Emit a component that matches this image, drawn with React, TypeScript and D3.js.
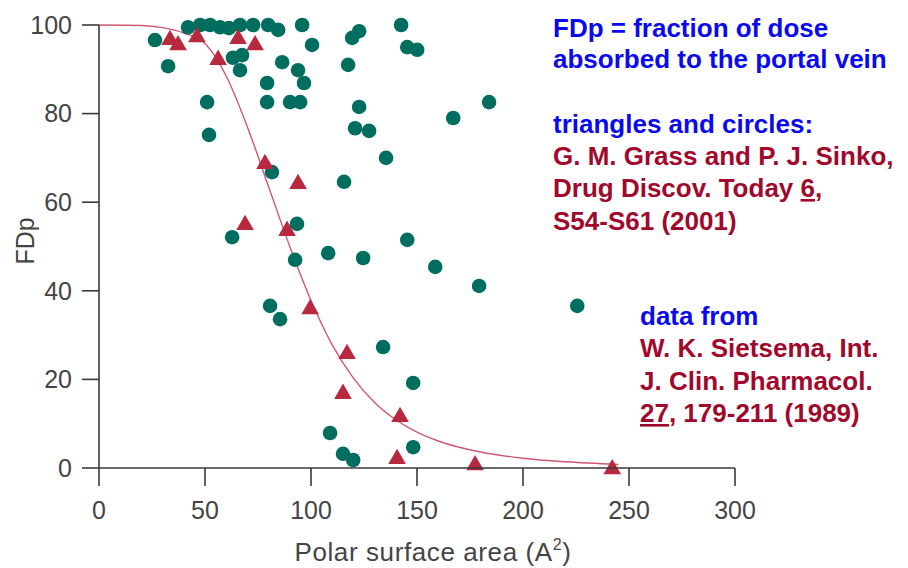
import React from 'react'
import * as d3 from 'd3'

// circles (Sietsema data), polar surface area vs FDp
const circlePsa = [
  26.4, 32.6, 42.0, 47.7, 52.4, 57.1, 61.3, 66.5, 72.7, 79.8, 84.5, 63.2, 67.5,
  66.5, 51.0, 51.9, 79.3, 79.3, 86.4, 90.1, 94.9, 93.9, 96.7, 95.8, 100.5,
  119.4, 122.7, 117.5, 142.5, 145.4, 150.1, 122.7, 120.8, 127.4, 135.4, 167.1,
  184.0, 115.6, 81.6, 93.4, 62.8, 92.5, 108.1, 124.6, 80.7, 85.4, 145.4, 158.6,
  179.3, 225.6, 134.0, 148.2, 109.0, 115.1, 119.9, 148.2
]
const circleFdp = [
  96.6, 90.7, 99.5, 100, 100, 99.5, 99.3, 100, 100, 100, 98.9, 92.6, 93.2,
  89.8, 82.6, 75.2, 86.9, 82.6, 91.6, 82.6, 82.6, 89.8, 86.9, 100, 95.5,
  97.1, 98.6, 91.0, 100, 95.0, 94.4, 81.5, 76.7, 76.1, 70.0, 79.0,
  82.6, 64.6, 66.8, 55.1, 52.1, 47.0, 48.5, 47.4, 36.6, 33.6, 51.5, 45.4,
  41.1, 36.6, 27.3, 19.2, 7.9, 3.2, 1.8, 4.7
]

// triangles
const trianglePsa = [
  33.5, 37.3, 46.2, 56.2, 65.6, 73.6, 78.3, 93.9, 68.9, 88.7, 99.6, 117.0,
  115.1, 142.0, 140.6, 177.4, 242.1
]
const triangleFdp = [
  97.1, 95.9, 97.7, 92.6, 97.3, 95.9, 69.1, 64.6, 55.3, 54.0, 36.3, 26.2,
  17.2, 12.0, 2.5, 1.1, 0.2
]

// fitted curve
const curvePsa = [0, 20, 30, 40, 50, 60, 70, 80, 90, 100, 110, 120, 130, 140, 150, 160, 180, 200, 220, 245]
const curveFdp = [100, 99.9, 99.4, 98.2, 95.8, 88.5, 77, 63.5, 50, 37.8, 27.8, 20.3, 14.8, 10.9, 8.1, 6.1, 3.6, 2.2, 1.4, 0.8]

const xTicks = [0, 50, 100, 150, 200, 250, 300]
const yTicks = [0, 20, 40, 60, 80, 100]

const blue = '#0a0aef'
const red = '#a1092c'
const teal = '#006e5f'
const crimson = '#b8283f'
const axisColor = '#3a3a3a'

export default function App() {
  const x = d3.scaleLinear().domain([0, 300]).range([99, 735])
  const y = d3.scaleLinear().domain([0, 100]).range([468, 25])

  const line = d3
    .line<number>()
    .x((d, i) => x(curvePsa[i]))
    .y(d => y(d))
    .curve(d3.curveMonotoneX)

  const tri = d3.symbol().type(d3.symbolTriangle).size(135)()

  const font = 'Liberation Sans, Arial, Helvetica, sans-serif'

  return (
    <svg
      width={908}
      height={568}
      style={{ position: 'absolute', left: 0, top: 0, background: '#fff' }}
      fontFamily={font}>
      {/* curve */}
      <path d={line(curveFdp) || ''} fill='none' stroke='#cf5870' strokeWidth={1.4} />

      {/* circles */}
      {circlePsa.map((d, i) => (
        <circle key={'c' + i} cx={x(d)} cy={y(circleFdp[i])} r={7.3} fill={teal} />
      ))}

      {/* triangles */}
      {trianglePsa.map((d, i) => (
        <path
          key={'t' + i}
          d={tri || ''}
          transform={`translate(${x(d)},${y(triangleFdp[i]) + 2})`}
          fill={crimson}
        />
      ))}

      {/* axes */}
      <g stroke={axisColor} strokeWidth={1.6} fill='none'>
        <line x1={x(0)} x2={x(0)} y1={y(100)} y2={y(0)} />
        <line x1={x(0)} x2={x(300)} y1={y(0)} y2={y(0)} />
        {yTicks.map(t => (
          <line key={'yt' + t} x1={x(0) - 17} x2={x(0)} y1={y(t)} y2={y(t)} />
        ))}
        {xTicks.map(t => (
          <line key={'xt' + t} x1={x(t)} x2={x(t)} y1={y(0)} y2={y(0) + 18} />
        ))}
      </g>
      <g fill='#444' fontSize={25}>
        {yTicks.map(t => (
          <text key={'yl' + t} x={x(0) - 27} y={y(t)} dy='0.35em' textAnchor='end'>
            {t}
          </text>
        ))}
        {xTicks.map(t => (
          <text key={'xl' + t} x={x(t)} y={519} textAnchor='middle'>
            {t}
          </text>
        ))}
        <text x={433} y={561} textAnchor='middle' fontSize={26} letterSpacing={0.6}>
          Polar surface area (A
          <tspan fontSize={16} dy={-11}>2</tspan>
          <tspan dy={11}>)</tspan>
        </text>
        <text transform='translate(34,241) rotate(-90)' textAnchor='middle'>
          FDp
        </text>
      </g>

      {/* notes */}
      <g fontSize={26} fontWeight='bold'>
        <text x={553} y={37} fill={blue}>FDp = fraction of dose</text>
        <text x={553} y={68} fill={blue}>absorbed to the portal vein</text>
        <text x={553} y={133} fill={blue}>triangles and circles:</text>
        <text x={553} y={165} fill={red}>G. M. Grass and P. J. Sinko,</text>
        <text x={553} y={197} fill={red}>
          Drug Discov. Today <tspan textDecoration='underline'>6</tspan>,
        </text>
        <text x={553} y={230} fill={red}>S54-S61 (2001)</text>

        <text x={640} y={325} fill={blue}>data from</text>
        <text x={640} y={357} fill={red}>W. K. Sietsema, Int.</text>
        <text x={640} y={390} fill={red}>J. Clin. Pharmacol.</text>
        <text x={640} y={422} fill={red}>
          <tspan textDecoration='underline'>27</tspan>, 179-211 (1989)
        </text>
      </g>
    </svg>
  )
}
